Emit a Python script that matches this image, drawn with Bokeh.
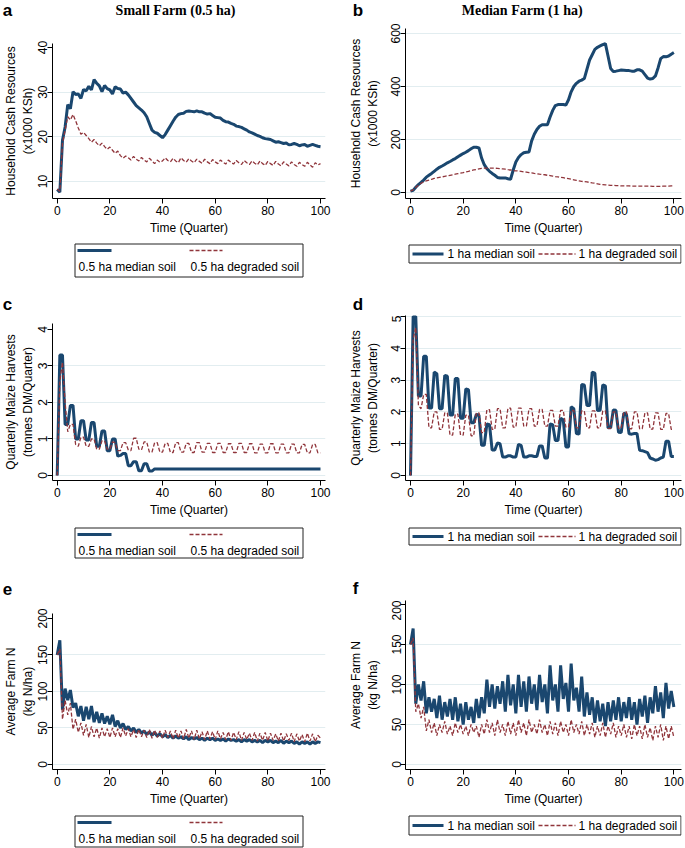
from bokeh.plotting import figure
from bokeh.models import Range1d, FixedTicker
from bokeh.layouts import row, column
from bokeh.embed import file_html
from bokeh.resources import INLINE
from bokeh.core.properties import value

BLUE = "#1a476f"
RED = "#90353b"
SANS = "Liberation Sans"
SERIF = "Liberation Serif"

quarters = list(range(101))
x_ticks = [0, 20, 40, 60, 80, 100]

labels_small = ["0.5 ha median soil", "0.5 ha degraded soil"]
labels_median = ["1 ha median soil", "1 ha degraded soil"]
panel_letters = ["a", "b", "c", "d", "e", "f"]
column_titles = ["Small Farm (0.5 ha)", "Median Farm (1 ha)"]
y_titles = ["Household Cash Resources\n(x1000 KSh)",
            "Quarterly Maize Harvests\n(tonnes DM/Quarter)",
            "Average Farm N\n(kg N/ha)"]

# (a) Household cash resources, small farm (x1000 KSh)
cash_small_median = [
    8.2, 7.6, 19.2, 22.2, 27.2, 26.3, 30.1, 29.5, 29.6, 28.6,
    30.6, 30.3, 31.3, 30.5, 32.8, 32.0, 31.4, 30.1, 31.5, 30.8,
    30.5, 29.6, 31.2, 30.8, 30.7, 29.8, 30.0, 29.4, 28.6, 27.8,
    27.0, 26.5, 26.0, 25.4, 24.5, 23.0, 21.5, 21.0, 20.8, 20.3,
    19.8, 20.5, 21.5, 22.5, 23.5, 24.4, 25.0, 25.2, 25.3, 25.7,
    25.8, 25.7, 25.6, 25.8, 25.6, 25.6, 25.3, 25.1, 25.2, 24.8,
    24.4, 24.3, 24.2, 23.7, 23.4, 23.3, 23.0, 22.8, 22.4, 22.3,
    22.1, 21.8, 21.5, 21.1, 20.9, 20.6, 20.3, 20.1, 19.8, 19.6,
    19.5, 19.4, 19.1, 18.8, 18.9, 18.7, 18.5, 18.6, 18.2, 18.3,
    18.5, 18.3, 18.0, 18.2, 18.3, 17.9, 18.1, 18.3, 18.1, 17.9, 17.8]
cash_small_degraded = [
    8.3, 7.8, 18.5, 21.5, 24.5, 23.8, 25.0, 23.6, 22.0, 20.6,
    21.0, 20.3, 19.6, 18.8, 19.4, 18.6, 18.0, 18.6, 17.8, 17.2,
    17.7, 17.0, 16.3, 16.8, 15.8, 15.2, 15.7, 15.3, 14.8, 15.6,
    15.0, 14.6, 15.4, 14.8, 14.4, 15.2, 14.6, 14.0, 14.8, 14.3,
    14.6, 15.3, 14.7, 14.4, 15.2, 14.6, 14.2, 15.3, 14.7, 14.3,
    15.1, 14.6, 14.2, 15.0, 14.5, 14.1, 15.0, 14.4, 14.0, 14.9,
    14.4, 14.0, 14.8, 14.3, 13.9, 14.8, 14.3, 13.9, 14.7, 14.2,
    13.8, 14.7, 14.2, 13.8, 14.6, 14.1, 13.7, 14.6, 14.0, 13.6,
    14.5, 14.0, 13.6, 14.5, 13.9, 13.5, 14.4, 13.9, 13.5, 14.4,
    13.8, 13.4, 14.3, 13.8, 13.4, 14.3, 13.7, 13.2, 14.2, 13.7, 14.0]

# (b) Household cash resources, median farm (x1000 KSh)
cash_median_median = [
    5, 8, 20, 30, 38, 47, 58, 65, 72, 80,
    88, 95, 100, 106, 112, 117, 123, 128, 135, 141,
    147, 152, 158, 165, 171, 171, 168, 130, 105, 90,
    80, 72, 65, 57, 55, 55, 55, 52, 50, 85,
    115, 132, 143, 150, 152, 153, 195, 220, 238, 250,
    256, 256, 256, 285, 310, 328, 332, 332, 332, 330,
    350, 380, 400, 412, 420, 424, 430, 465, 500, 520,
    540, 548, 553, 558, 562, 515, 468, 457, 458, 460,
    462, 461, 460, 460, 458, 458, 463, 463, 458, 445,
    432, 428, 430, 440, 470, 505, 513, 512, 515, 522, 528]
cash_median_degraded = [
    5, 10, 20, 28, 35, 40, 44, 47, 50, 53,
    55, 57, 59, 61, 63, 65, 67, 69, 71, 73,
    75, 78, 80, 83, 85, 87, 89, 91, 92, 92,
    92, 92, 92, 91, 90, 89, 88, 86, 85, 83,
    82, 81, 80, 78, 77, 75, 74, 72, 71, 69,
    68, 67, 65, 64, 62, 60, 59, 57, 56, 54,
    52, 50, 48, 46, 44, 42, 41, 40, 38, 36,
    35, 33, 31, 30, 29, 28, 27, 27, 26, 26,
    25, 25, 25, 25, 24, 24, 24, 24, 24, 24,
    24, 24, 23, 23, 23, 23, 24, 24, 24, 25, 25]

# (c) Quarterly maize harvests, small farm (tonnes DM/quarter)
maize_small_median = [
    0, 3.3, 3.3, 1.4, 1.4, 1.92, 1.92, 1.0, 1.0, 1.5,
    1.5, 0.97, 0.97, 1.45, 1.45, 0.8, 0.8, 1.22, 1.22, 0.68,
    0.68, 1.0, 1.0, 0.53, 0.55, 0.6, 0.6, 0.27, 0.27, 0.38,
    0.38, 0.13, 0.13, 0.32, 0.32, 0.12, 0.12, 0.18, 0.18, 0.18,
    0.18, 0.18, 0.18, 0.18, 0.18, 0.18, 0.18, 0.18, 0.18, 0.18,
    0.18, 0.18, 0.18, 0.18, 0.18, 0.18, 0.18, 0.18, 0.18, 0.18,
    0.18, 0.18, 0.18, 0.18, 0.18, 0.18, 0.18, 0.18, 0.18, 0.18,
    0.18, 0.18, 0.18, 0.18, 0.18, 0.18, 0.18, 0.18, 0.18, 0.18,
    0.18, 0.18, 0.18, 0.18, 0.18, 0.18, 0.18, 0.18, 0.18, 0.18,
    0.18, 0.18, 0.18, 0.18, 0.18, 0.18, 0.18, 0.18, 0.18, 0.18, 0.18]
maize_small_degraded = [
    0, 2.6, 3.1, 2.0, 1.2, 1.4, 1.4, 0.85, 0.8, 1.05,
    1.05, 0.8, 0.8, 1.0, 1.0, 0.72, 0.72, 0.95, 0.95, 0.72,
    0.72, 0.92, 0.9, 0.68, 0.68, 0.9, 0.9, 0.7, 0.68, 1.02,
    1.02, 0.72, 0.7, 0.92, 0.92, 0.64, 0.64, 0.9, 0.9, 0.64,
    0.64, 0.88, 0.88, 0.63, 0.63, 0.9, 0.9, 0.64, 0.64, 0.88,
    0.88, 0.63, 0.63, 0.9, 0.9, 0.64, 0.64, 0.88, 0.88, 0.63,
    0.63, 0.88, 0.88, 0.63, 0.63, 0.87, 0.87, 0.63, 0.63, 0.88,
    0.88, 0.63, 0.63, 0.87, 0.87, 0.62, 0.62, 0.86, 0.86, 0.62,
    0.62, 0.87, 0.87, 0.62, 0.62, 0.86, 0.86, 0.62, 0.62, 0.86,
    0.86, 0.62, 0.62, 0.85, 0.85, 0.62, 0.62, 0.85, 0.85, 0.62, 0.62]

# (d) Quarterly maize harvests, median farm (tonnes DM/quarter)
maize_median_median = [
    0, 5.0, 5.0, 2.5, 2.5, 3.75, 3.75, 2.12, 2.12, 3.25,
    3.2, 2.1, 2.1, 3.15, 3.12, 1.9, 1.9, 3.05, 3.05, 1.8,
    1.8, 2.72, 2.7, 1.66, 1.66, 1.92, 1.9, 0.95, 0.95, 1.62,
    1.6, 0.8, 0.8, 1.02, 1.0, 0.58, 0.58, 0.62, 0.62, 0.58,
    0.58, 0.98, 0.95, 0.58, 0.58, 0.62, 0.62, 0.6, 0.6, 0.93,
    0.93, 0.55, 0.55, 1.62, 1.6, 1.1, 1.1, 1.8, 1.75, 0.9,
    0.9, 2.16, 2.1, 1.32, 1.3, 2.86, 2.85, 2.2, 2.2, 3.25,
    3.22, 2.04, 2.05, 2.85, 2.82, 1.5, 1.5, 2.06, 2.05, 1.36,
    1.35, 1.96, 1.92, 1.31, 1.3, 1.32, 1.32, 0.79, 0.78, 0.75,
    0.72, 0.55, 0.52, 0.48, 0.5, 0.55, 0.58, 1.08, 1.08, 0.6, 0.6]
maize_median_degraded = [
    0, 4.3, 4.65, 2.2, 2.1, 2.55, 2.55, 1.5, 1.5, 2.0,
    2.0, 1.45, 1.45, 1.97, 1.97, 1.27, 1.27, 1.93, 1.93, 1.27,
    1.27, 1.9, 1.9, 1.25, 1.25, 1.97, 1.97, 1.35, 1.35, 2.07,
    2.07, 1.45, 1.45, 2.1, 2.1, 1.5, 1.5, 2.12, 2.12, 1.52,
    1.52, 2.12, 2.12, 1.55, 1.55, 2.1, 2.1, 1.55, 1.55, 2.08,
    2.08, 1.55, 1.55, 2.05, 2.05, 1.55, 1.55, 2.05, 2.05, 1.52,
    1.52, 2.05, 2.05, 1.5, 1.5, 2.03, 2.03, 1.5, 1.5, 2.03,
    2.03, 1.5, 1.5, 2.03, 2.03, 1.48, 1.48, 2.0, 2.0, 1.48,
    1.48, 2.0, 2.0, 1.47, 1.47, 2.0, 2.0, 1.47, 1.47, 1.97,
    1.97, 1.46, 1.46, 1.97, 1.97, 1.45, 1.45, 1.95, 1.95, 1.45, 1.45]

# (e) Average farm N, small farm (kg N/ha)
nitrogen_small_median = [
    150, 170, 75, 104, 88, 102, 78, 84, 66, 80,
    60, 79, 62, 80, 58, 72, 57, 70, 56, 66,
    55, 68, 52, 60, 50, 56, 48, 52, 46, 50,
    44, 48, 43, 46, 41, 45, 40, 44, 39, 42,
    38, 41, 37, 40, 36, 39, 36, 38, 35, 38,
    34, 37, 35, 37, 34, 36, 33, 36, 34, 36,
    33, 35, 33, 35, 32, 35, 33, 34, 32, 34,
    31, 34, 32, 34, 31, 33, 31, 33, 30, 33,
    31, 33, 30, 32, 30, 33, 29, 32, 30, 32,
    29, 31, 28, 31, 29, 31, 28, 31, 29, 31, 30]
nitrogen_small_degraded = [
    150, 158, 62, 88, 68, 84, 48, 62, 44, 57,
    40, 55, 37, 52, 38, 50, 36, 50, 38, 49,
    37, 50, 38, 49, 37, 50, 39, 49, 38, 48,
    37, 48, 38, 47, 37, 48, 36, 47, 37, 46,
    36, 47, 37, 46, 35, 47, 36, 46, 35, 48,
    36, 46, 34, 47, 35, 45, 34, 46, 35, 45,
    34, 46, 35, 44, 34, 45, 33, 44, 34, 45,
    33, 44, 34, 43, 33, 44, 32, 43, 33, 44,
    32, 43, 33, 42, 32, 43, 32, 42, 33, 43,
    31, 42, 32, 41, 31, 43, 32, 42, 31, 40, 36]

# (f) Average farm N, median farm (kg N/ha)
nitrogen_median_median = [
    150, 170, 76, 100, 80, 104, 64, 84, 66, 82,
    58, 86, 56, 78, 60, 82, 56, 84, 54, 76,
    50, 78, 56, 72, 52, 82, 58, 84, 64, 106,
    72, 100, 70, 98, 76, 104, 66, 112, 74, 100,
    64, 112, 72, 104, 66, 110, 76, 100, 68, 112,
    78, 100, 64, 124, 80, 100, 66, 124, 82, 102,
    66, 126, 80, 96, 66, 110, 60, 90, 62, 84,
    52, 80, 54, 76, 48, 78, 54, 80, 56, 84,
    54, 78, 58, 84, 56, 78, 50, 82, 60, 86,
    52, 84, 64, 98, 66, 90, 58, 102, 70, 92, 72]
nitrogen_median_degraded = [
    150, 158, 66, 76, 58, 72, 42, 56, 40, 52,
    36, 50, 40, 54, 38, 48, 36, 52, 40, 50,
    38, 48, 36, 50, 40, 48, 34, 50, 38, 56,
    40, 52, 36, 56, 40, 50, 36, 54, 38, 52,
    36, 56, 40, 52, 36, 56, 40, 50, 38, 56,
    40, 50, 36, 54, 38, 52, 36, 54, 40, 50,
    36, 56, 40, 50, 38, 54, 36, 50, 38, 52,
    34, 48, 36, 52, 34, 48, 38, 52, 34, 48,
    36, 50, 34, 48, 32, 50, 36, 48, 32, 50,
    34, 46, 30, 48, 34, 50, 30, 48, 32, 48, 34]

PAGE_W = 685
LW, RW = 340, 345
LEFT = dict(fl=52, fr=325, xr=(-1.79, 101.9), ylab_standoff=1)
RIGHT = dict(fl=65, fr=341, xr=(-1.90, 102.9), ylab_standoff=9)


def strip(h, xs, ys, texts, fonts, sizes):
    s = figure(width=PAGE_W, height=h, x_range=Range1d(0, PAGE_W), y_range=Range1d(h, 0),
               x_axis_type=None, y_axis_type=None, output_backend="svg",
               toolbar_location=None, min_border=0, outline_line_color=None,
               background_fill_color="white", border_fill_color="white")
    for x, y, t, f, sz in zip(xs, ys, texts, fonts, sizes):
        s.text(x=[x], y=[y], text=[t], text_font=value(f), text_font_size=sz,
               text_font_style="bold", text_align="center", text_baseline="middle",
               text_color="black")
    return s


def main_panel(w, h, side, ft, fb, yr, yticks, gridticks, median, degraded, ytitle):
    fl, fr = side["fl"], side["fr"]
    p = figure(width=w, height=h, x_range=Range1d(*side["xr"]), y_range=Range1d(*yr),
               output_backend="svg", toolbar_location=None,
               min_border_left=fl, min_border_right=w - fr,
               min_border_top=ft, min_border_bottom=h - fb,
               outline_line_color=None, background_fill_color="white",
               border_fill_color="white")
    p.line(quarters, median, line_color=BLUE, line_width=3)
    p.line(quarters, degraded, line_color=RED, line_width=1.3, line_dash="4 2")
    p.xaxis.ticker = FixedTicker(ticks=x_ticks)
    p.yaxis.ticker = FixedTicker(ticks=yticks)
    for ax in (p.xaxis[0], p.yaxis[0]):
        ax.axis_line_color = "black"
        ax.axis_line_width = 1
        ax.major_tick_line_color = "black"
        ax.major_tick_out = 5
        ax.major_tick_in = 0
        ax.minor_tick_line_color = None
        ax.major_label_text_font = SANS
        ax.major_label_text_font_size = "12px"
        ax.major_label_text_color = "black"
        ax.axis_label_text_font = SANS
        ax.axis_label_text_font_size = "12px"
        ax.axis_label_text_font_style = "normal"
        ax.axis_label_text_color = "black"
    p.yaxis.major_label_orientation = "vertical"
    p.yaxis.major_label_standoff = 0
    p.yaxis.axis_label = ytitle
    p.yaxis.axis_label_standoff = side["ylab_standoff"]
    p.yaxis.axis_label_text_line_height = 1.15
    p.xaxis.major_label_standoff = 2
    p.xaxis.axis_label = "Time (Quarter)"
    p.xaxis.axis_label_standoff = 3
    p.xgrid.visible = False
    p.ygrid.ticker = FixedTicker(ticks=gridticks)
    p.ygrid.grid_line_color = "#e2edf0"
    p.ygrid.grid_line_width = 1
    return p


def legend_panel(w, h, side, bt, bb, bl, br, labels, stacked):
    fl, fr = side["fl"], side["fr"]
    lg = figure(width=w, height=h, x_range=Range1d(fl, fr), y_range=Range1d(h, 0),
                x_axis_type=None, y_axis_type=None,
                output_backend="svg", toolbar_location=None,
                min_border_left=fl, min_border_right=w - fr,
                min_border_top=0, min_border_bottom=0,
                outline_line_color=None,
                background_fill_color="white", border_fill_color="white")
    lg.quad(left=[bl + 0.5], right=[br - 0.5], top=[bt + 0.5], bottom=[bb - 0.5],
            fill_color=None, line_color="#222222", line_width=1)
    if stacked:
        ky, ty = bt + 7, bt + 23
        keys = [(77, 111), (189, 222)]
        tx = [78, 190]
    else:
        ky = ty = (bt + bb) / 2
        keys = [(72, 103), (198, 235)]
        tx = [107, 238]
    lg.line([keys[0][0], keys[0][1]], [ky, ky], line_color=BLUE, line_width=3)
    lg.line([keys[1][0], keys[1][1]], [ky, ky], line_color=RED, line_width=1.3, line_dash="4 2")
    lg.text(x=tx, y=[ty, ty], text=labels, text_font=value(SANS), text_font_size="12px",
            text_baseline="middle", text_align="left", text_color="black")
    return lg


s1 = strip(22, [7, 175, 357.5, 521.7], [9.8, 9.5, 9.8, 9.5],
           [panel_letters[0], column_titles[0], panel_letters[1], column_titles[1]],
           [SANS, SERIF, SANS, SERIF], ["17px", "14px", "17px", "14px"])
s2 = strip(30, [7, 357.5], [19.3, 19.3], [panel_letters[2], panel_letters[3]],
           [SANS, SANS], ["17px", "17px"])
s3 = strip(35, [7, 355], [23.3, 23.3], [panel_letters[4], panel_letters[5]],
           [SANS, SANS], ["17px", "17px"])

pa = main_panel(LW, 218, LEFT, 21, 176, (6.19, 40.9), [10, 20, 30, 40], [10, 20, 30],
                cash_small_median, cash_small_degraded, y_titles[0])
pb = main_panel(RW, 218, RIGHT, 6, 176, (-22.6, 618.9), [0, 200, 400, 600], [0, 200, 400, 600],
                cash_median_median, cash_median_degraded, y_titles[0])
pc = main_panel(LW, 210, LEFT, 8, 165, (-0.137, 4.164), [0, 1, 2, 3, 4], [0, 1, 2, 3],
                maize_small_median, maize_small_degraded, y_titles[1])
pd_ = main_panel(RW, 210, RIGHT, 0, 165, (-0.157, 5.031), [0, 1, 2, 3, 4, 5], [0, 1, 2, 3, 4, 5],
                 maize_median_median, maize_median_degraded, y_titles[1])
pe = main_panel(LW, 210, LEFT, 13, 169, (-6.85, 206.8), [0, 50, 100, 150, 200], [0, 50, 100, 150],
                nitrogen_small_median, nitrogen_small_degraded, y_titles[2])
pf = main_panel(RW, 210, RIGHT, 0, 169, (-6.25, 205.0), [0, 50, 100, 150, 200], [0, 50, 100, 150],
                nitrogen_median_median, nitrogen_median_degraded, y_titles[2])

la = legend_panel(LW, 45, LEFT, 3, 37, 74, 303, labels_small, True)
lb = legend_panel(RW, 45, RIGHT, 4, 23, 68, 341, labels_median, False)
lc = legend_panel(LW, 40, LEFT, 2, 33, 74, 303, labels_small, True)
ld = legend_panel(RW, 40, RIGHT, 2, 20, 68, 341, labels_median, False)
le = legend_panel(LW, 38, LEFT, 5, 37, 74, 303, labels_small, True)
lf = legend_panel(RW, 38, RIGHT, 5, 25, 68, 341, labels_median, False)

layout = column(
    s1,
    row(column(pa, la), column(pb, lb)),
    s2,
    row(column(pc, lc), column(pd_, ld)),
    s3,
    row(column(pe, le), column(pf, lf)),
)

open("out.html", "w").write(file_html(layout, INLINE))
